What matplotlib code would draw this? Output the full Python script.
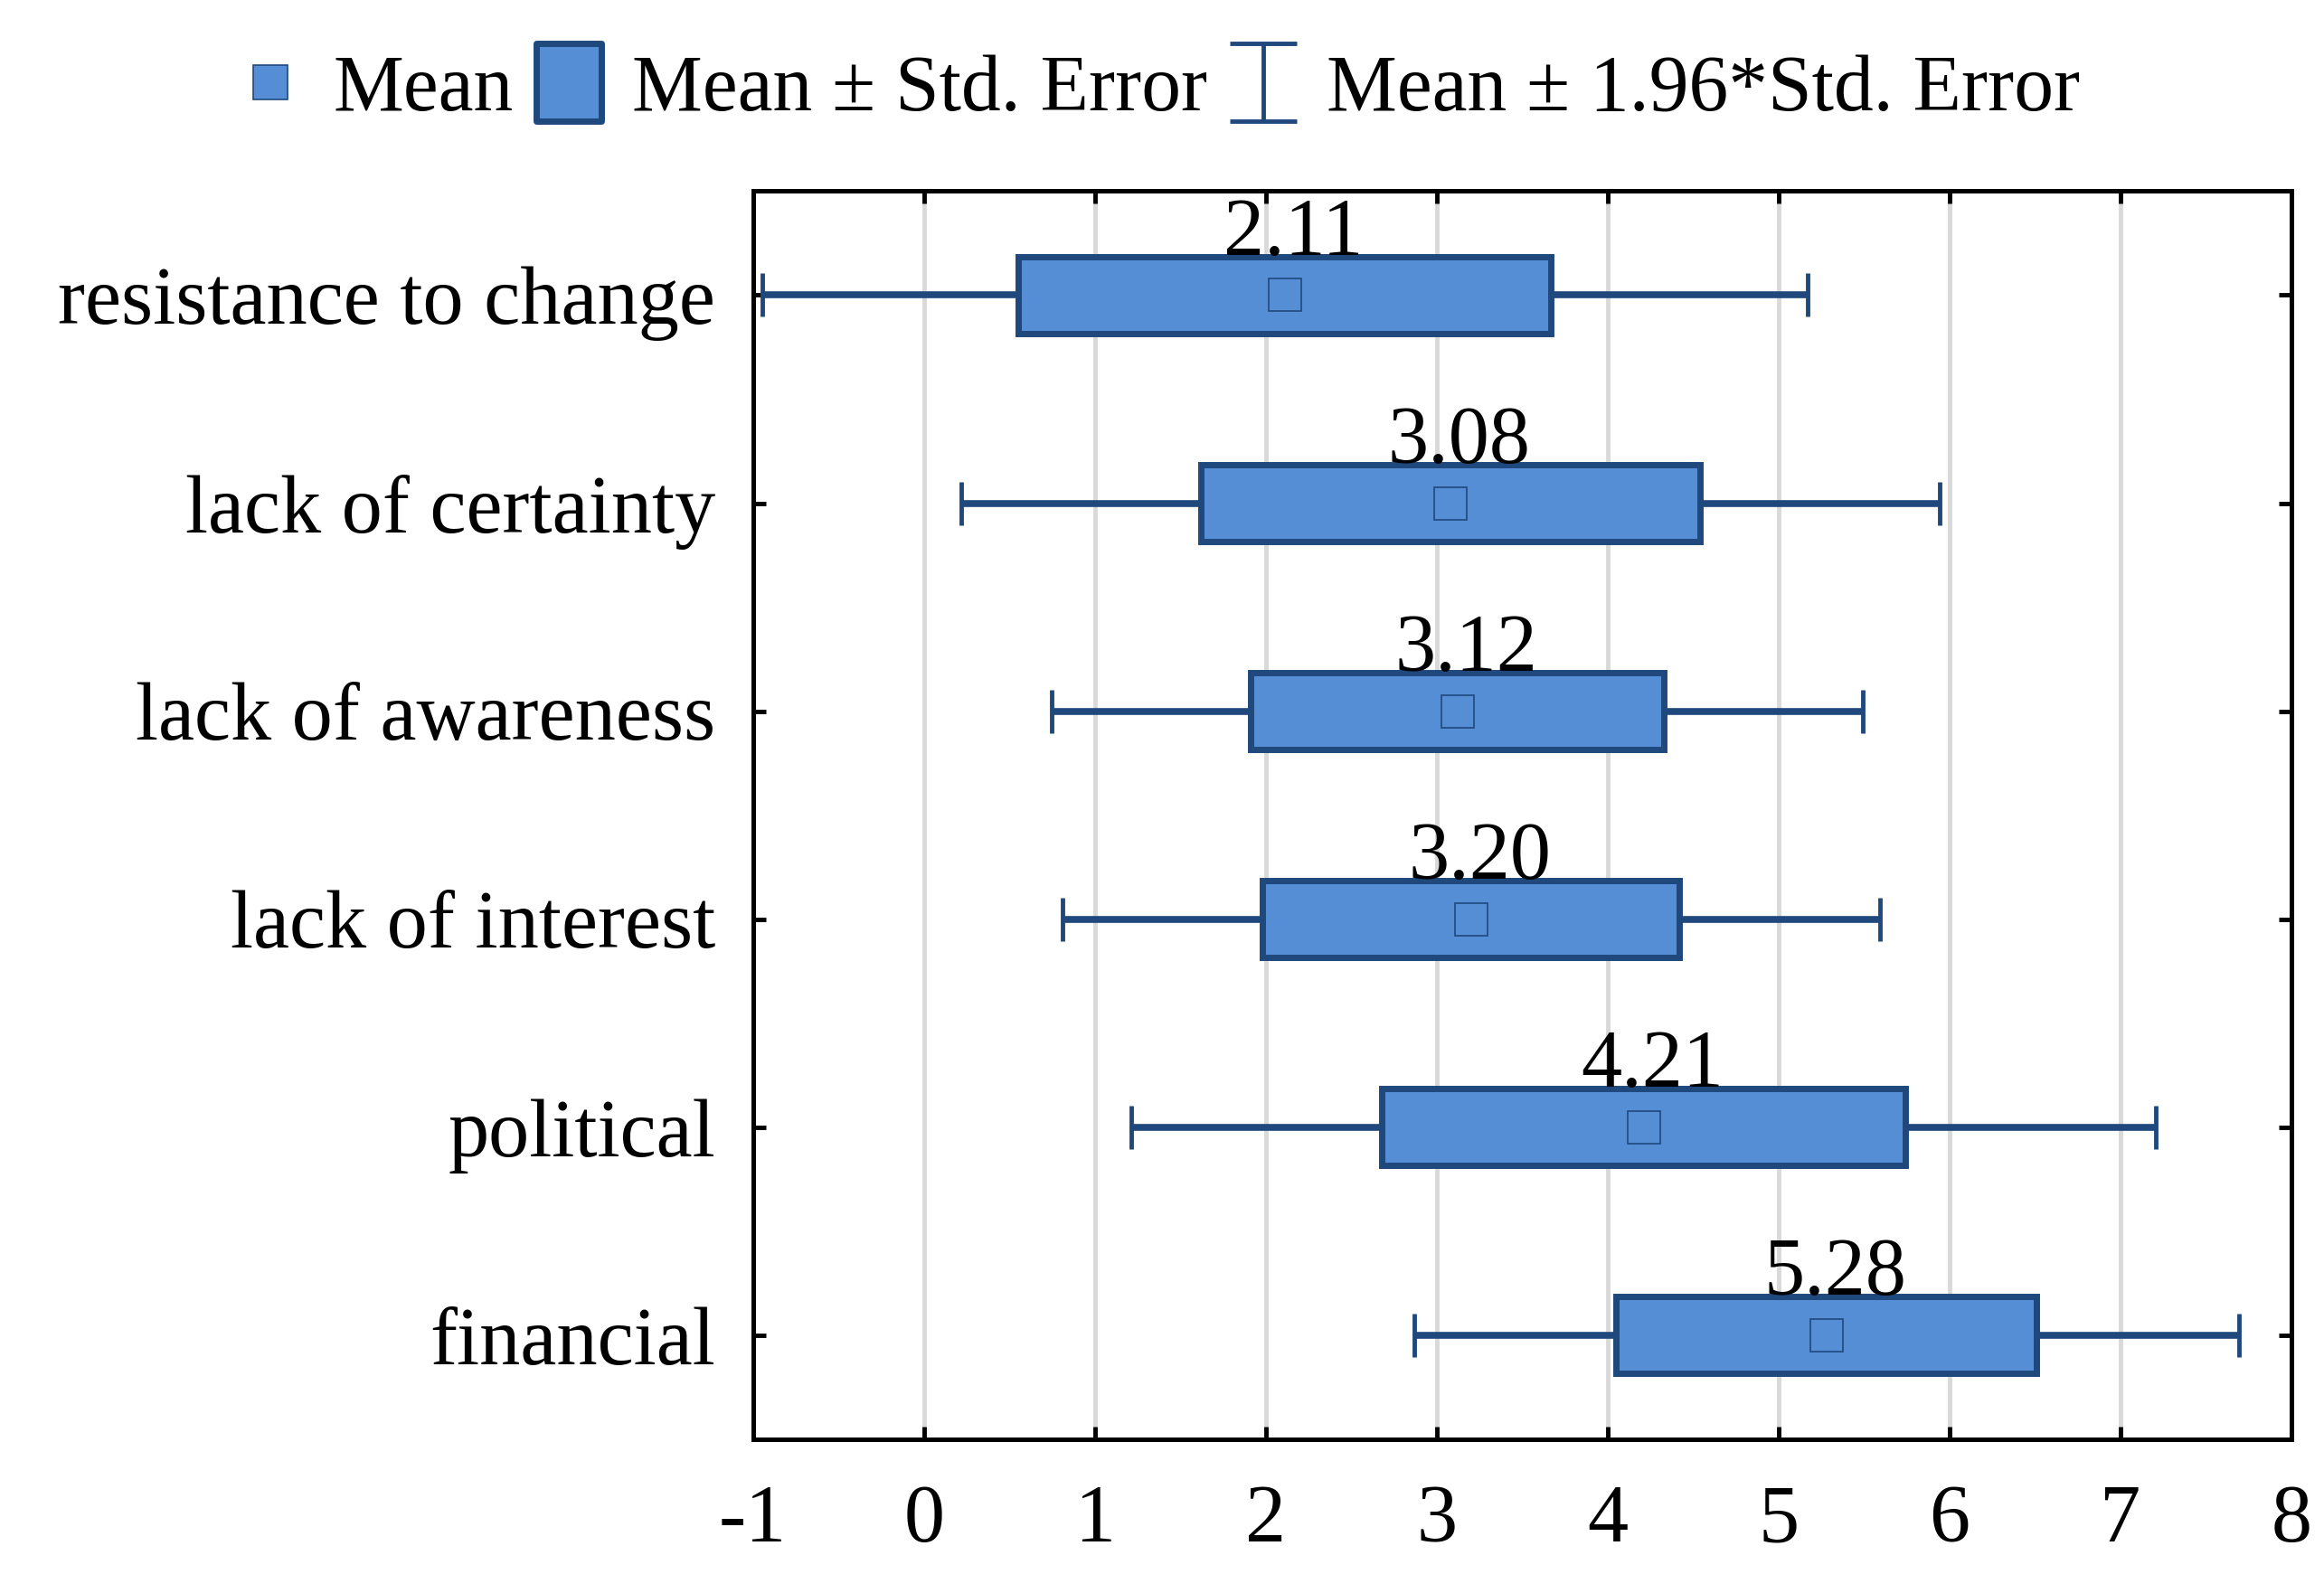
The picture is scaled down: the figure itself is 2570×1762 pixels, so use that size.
import numpy as np
import matplotlib
matplotlib.use('Agg')
import matplotlib.pyplot as plt
from matplotlib.lines import Line2D
from matplotlib.path import Path
from matplotlib.patches import Rectangle

# values (top row first)
categories = ['resistance to change', 'lack of certainty', 'lack of awareness',
              'lack of interest', 'political', 'financial']
means = np.array([2.11, 3.08, 3.12, 3.20, 4.21, 5.28])
std_err = np.array([1.56, 1.46, 1.21, 1.22, 1.53, 1.23])
x_ticks = [-1, 0, 1, 2, 3, 4, 5, 6, 7, 8]

fill_c = '#558ED5'
edge_c = '#1F497D'
fs = 65

plt.rcParams['font.family'] = ['Liberation Serif', 'DejaVu Serif']

fig = plt.figure(figsize=(25.7, 17.62), dpi=100)
ax = fig.add_axes([0.324, 0.0965, 0.662, 0.7835])

pos = np.arange(len(categories))
box_h = 0.37

ax.errorbar(means, pos, xerr=1.96 * std_err, fmt='none', ecolor=edge_c,
            elinewidth=5.5, capsize=17, capthick=3.5, zorder=3)
for m, s, p in zip(means, std_err, pos):
    ax.add_patch(Rectangle((m - s, p - box_h / 2), 2 * s, box_h,
                           facecolor=fill_c, edgecolor=edge_c, linewidth=5, zorder=4))
    ax.text(m + 0.05, p - box_h / 2 - 0.01, f'{m:.2f}', ha='center', va='baseline',
            fontsize=fs, zorder=6)
ax.plot(means, pos, 's', ms=26, mfc=fill_c, mec=edge_c, mew=1.2, zorder=5)

ax.set_xlim(-1, 8)
ax.set_ylim(len(categories) - 0.5, -0.5)
ax.set_xticks(x_ticks)
ax.set_xticklabels([str(t) for t in x_ticks])
ax.set_yticks(pos)
ax.set_yticklabels(categories)
ax.xaxis.grid(True, color='#D9D9D9', linewidth=3.5, zorder=0)
ax.set_axisbelow(True)

ax.tick_params(axis='both', direction='in', length=10, width=3.5,
               top=True, right=True, labelsize=fs)
ax.tick_params(axis='x', pad=36)
ax.tick_params(axis='y', pad=30)
for sp in ax.spines.values():
    sp.set_linewidth(3.6)

# legend handles
rect_marker = Path([(-0.42, -0.5), (0.42, -0.5), (0.42, 0.5), (-0.42, 0.5), (-0.42, -0.5)],
                   [Path.MOVETO, Path.LINETO, Path.LINETO, Path.LINETO, Path.CLOSEPOLY])
ibeam = Path([(-0.43, 0.5), (0.43, 0.5), (0, 0.5), (0, -0.5), (-0.43, -0.5), (0.43, -0.5)],
             [Path.MOVETO, Path.LINETO, Path.MOVETO, Path.LINETO, Path.MOVETO, Path.LINETO])
handles = [
    Line2D([], [], ls='none', marker='s', ms=28, mfc=fill_c, mec=edge_c, mew=1.2),
    Line2D([], [], ls='none', marker=rect_marker, ms=62, mfc=fill_c, mec=edge_c, mew=5),
    Line2D([], [], ls='none', marker=ibeam, ms=62, mfc='none', mec=edge_c, mew=3.5),
]
fig.legend(handles, ['Mean', 'Mean \u00b1 Std. Error', 'Mean \u00b1 1.96*Std. Error'],
           loc='center', bbox_to_anchor=(0.497, 0.943), ncol=3, frameon=False,
           fontsize=63, handlelength=1.0, handletextpad=0.3, columnspacing=0.2)

fig.savefig('out.png', dpi=100)
